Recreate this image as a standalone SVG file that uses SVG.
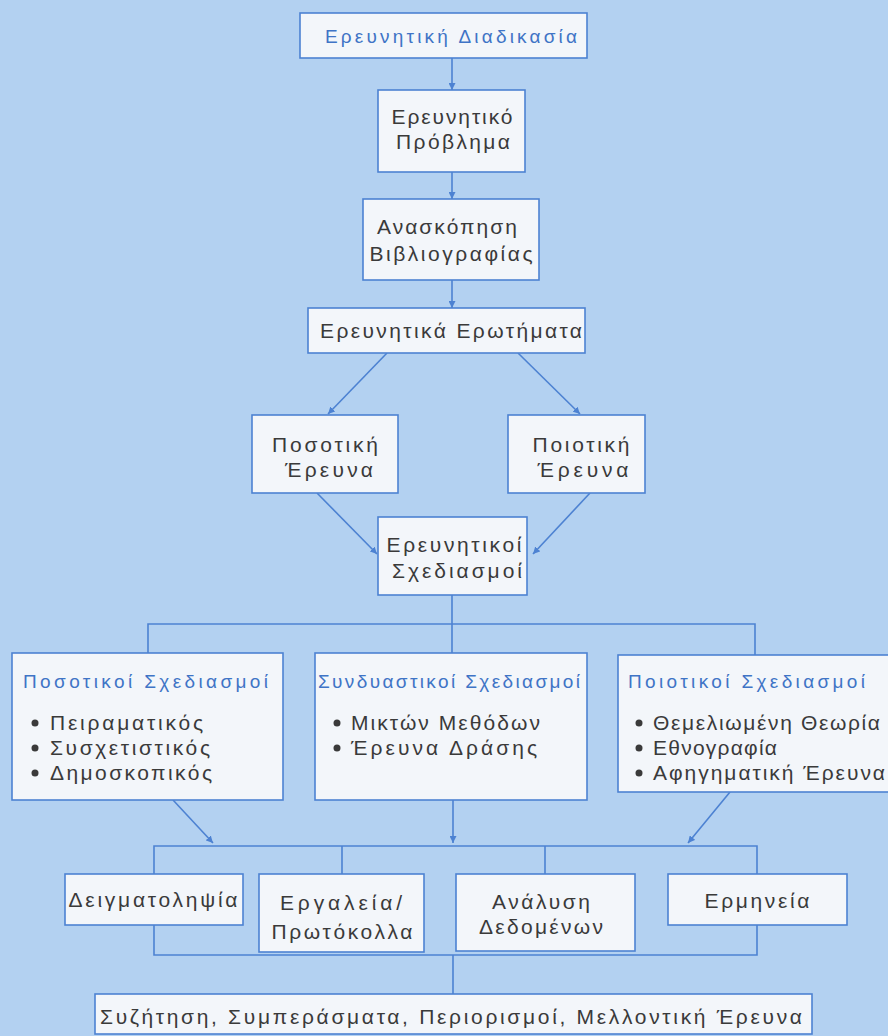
<svg xmlns="http://www.w3.org/2000/svg" width="888" height="1036" viewBox="0 0 888 1036">
<defs>
<style>
.bg{fill:#b3d1f1}
.box{fill:#f3f6fa;stroke:#4d82d2;stroke-width:1.6}
.t{font-family:"Liberation Sans",Arial,sans-serif;font-size:21px;fill:#3a3a3a}
.c{text-anchor:middle}
.blue{fill:#3f74c6;font-size:19px}
.ln{fill:none;stroke:#4d82d2;stroke-width:1.6}
.dot{fill:#3a3a3a}
</style>
<marker id="ah" viewBox="0 0 10 10" refX="10" refY="5" markerWidth="7" markerHeight="7" markerUnits="userSpaceOnUse" orient="auto">
<path d="M0,0 L10,5 L0,10 z" fill="#4d82d2"/>
</marker>
</defs>
<rect class="bg" x="0" y="0" width="888" height="1036"/>

<g id="connectors">
<line class="ln" x1="452" y1="58" x2="452" y2="90" marker-end="url(#ah)"/>
<line class="ln" x1="452" y1="172" x2="452" y2="199" marker-end="url(#ah)"/>
<line class="ln" x1="452" y1="280" x2="452" y2="308" marker-end="url(#ah)"/>
<line class="ln" x1="387" y1="353" x2="328" y2="414" marker-end="url(#ah)"/>
<line class="ln" x1="518" y1="353" x2="580" y2="414" marker-end="url(#ah)"/>
<line class="ln" x1="317" y1="493" x2="377" y2="554" marker-end="url(#ah)"/>
<line class="ln" x1="590" y1="493" x2="533" y2="554" marker-end="url(#ah)"/>
<path class="ln" d="M452,595 V653 M148,653 V624 H755 V655"/>
<line class="ln" x1="173" y1="800" x2="213" y2="843" marker-end="url(#ah)"/>
<line class="ln" x1="453" y1="800" x2="453" y2="843" marker-end="url(#ah)"/>
<line class="ln" x1="730" y1="792" x2="688" y2="843" marker-end="url(#ah)"/>
<path class="ln" d="M154,874 V846 H757 V874 M342,846 V874 M545,846 V874 M154,925 V955 H757 V925 M453,955 V994"/>
</g>

<g id="n1">
<rect class="box" x="300" y="13" width="287" height="45"/>
<text class="t c blue" x="451" y="43" textLength="252" lengthAdjust="spacing">Ερευνητική Διαδικασία</text>
</g>
<g id="n2">
<rect class="box" x="378" y="90" width="147" height="82"/>
<text class="t c" x="452" y="124" textLength="121" lengthAdjust="spacing">Ερευνητικό</text>
<text class="t c" x="453" y="149" textLength="114" lengthAdjust="spacing">Πρόβλημα</text>
</g>
<g id="n3">
<rect class="box" x="363" y="199" width="176" height="81"/>
<text class="t c" x="447" y="234" textLength="140" lengthAdjust="spacing">Ανασκόπηση</text>
<text class="t c" x="451" y="261" textLength="163" lengthAdjust="spacing">Βιβλιογραφίας</text>
</g>
<g id="n4">
<rect class="box" x="308" y="308" width="277" height="45"/>
<text class="t c" x="451" y="338" textLength="262" lengthAdjust="spacing">Ερευνητικά Ερωτήματα</text>
</g>
<g id="n5">
<rect class="box" x="252" y="415" width="146" height="78"/>
<text class="t c" x="325" y="452" textLength="106" lengthAdjust="spacing">Ποσοτική</text>
<text class="t c" x="329" y="477" textLength="88" lengthAdjust="spacing">Έρευνα</text>
</g>
<g id="n6">
<rect class="box" x="508" y="415" width="137" height="78"/>
<text class="t c" x="581" y="452" textLength="97" lengthAdjust="spacing">Ποιοτική</text>
<text class="t c" x="583" y="477" textLength="91" lengthAdjust="spacing">Έρευνα</text>
</g>
<g id="n7">
<rect class="box" x="378" y="517" width="149" height="78"/>
<text class="t c" x="454" y="552" textLength="135" lengthAdjust="spacing">Ερευνητικοί</text>
<text class="t c" x="457" y="578" textLength="130" lengthAdjust="spacing">Σχεδιασμοί</text>
</g>

<g id="n8">
<rect class="box" x="12" y="653" width="271" height="147"/>
<text class="t blue" x="23" y="688" textLength="245" lengthAdjust="spacing">Ποσοτικοί Σχεδιασμοί</text>
<circle class="dot" cx="35" cy="723" r="3.5"/>
<text class="t" x="50" y="730" textLength="153" lengthAdjust="spacing">Πειραματικός</text>
<circle class="dot" cx="35" cy="748" r="3.5"/>
<text class="t" x="50" y="755" textLength="160" lengthAdjust="spacing">Συσχετιστικός</text>
<circle class="dot" cx="35" cy="773" r="3.5"/>
<text class="t" x="50" y="780" textLength="162" lengthAdjust="spacing">Δημοσκοπικός</text>
</g>
<g id="n9">
<rect class="box" x="315" y="653" width="272" height="147"/>
<text class="t blue" x="318" y="688" textLength="262" lengthAdjust="spacing">Συνδυαστικοί Σχεδιασμοί</text>
<circle class="dot" cx="337" cy="723" r="3.5"/>
<text class="t" x="351" y="730" textLength="189" lengthAdjust="spacing">Μικτών Μεθόδων</text>
<circle class="dot" cx="337" cy="748" r="3.5"/>
<text class="t" x="351" y="755" textLength="186" lengthAdjust="spacing">Έρευνα Δράσης</text>
</g>
<g id="n10">
<rect class="box" x="618" y="655" width="276" height="137"/>
<text class="t blue" x="628" y="688" textLength="237" lengthAdjust="spacing">Ποιοτικοί Σχεδιασμοί</text>
<circle class="dot" cx="639" cy="723" r="3.5"/>
<text class="t" x="653" y="730" textLength="227" lengthAdjust="spacing">Θεμελιωμένη Θεωρία</text>
<circle class="dot" cx="639" cy="748" r="3.5"/>
<text class="t" x="653" y="755" textLength="124" lengthAdjust="spacing">Εθνογραφία</text>
<circle class="dot" cx="639" cy="773" r="3.5"/>
<text class="t" x="653" y="780" textLength="232" lengthAdjust="spacing">Αφηγηματική Έρευνα</text>
</g>

<g id="n11">
<rect class="box" x="65" y="874" width="178" height="51"/>
<text class="t c" x="153" y="907" textLength="169" lengthAdjust="spacing">Δειγματοληψία</text>
</g>
<g id="n12">
<rect class="box" x="259" y="874" width="165" height="78"/>
<text class="t c" x="341" y="910" textLength="122" lengthAdjust="spacing">Εργαλεία/</text>
<text class="t c" x="342" y="939" textLength="141" lengthAdjust="spacing">Πρωτόκολλα</text>
</g>
<g id="n13">
<rect class="box" x="456" y="874" width="179" height="77"/>
<text class="t c" x="541" y="909" textLength="98" lengthAdjust="spacing">Ανάλυση</text>
<text class="t c" x="541" y="934" textLength="124" lengthAdjust="spacing">Δεδομένων</text>
</g>
<g id="n14">
<rect class="box" x="668" y="874" width="179" height="51"/>
<text class="t c" x="757" y="908" textLength="105" lengthAdjust="spacing">Ερμηνεία</text>
</g>
<g id="n15">
<rect class="box" x="95" y="994" width="717" height="40"/>
<text class="t c" x="451" y="1024" textLength="702" lengthAdjust="spacing">Συζήτηση, Συμπεράσματα, Περιορισμοί, Μελλοντική Έρευνα</text>
</g>
</svg>
